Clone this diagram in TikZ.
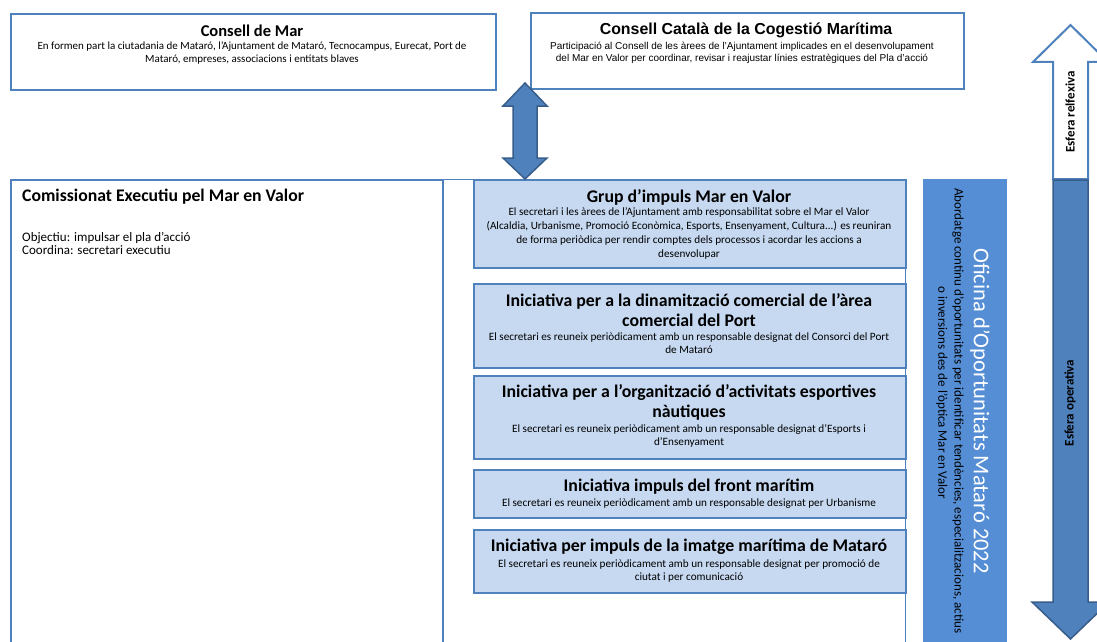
\documentclass[tikz,border=0pt]{standalone}
\usepackage{fontspec}
\setmainfont{Carlito}
\newfontfamily\arialf{Liberation Sans}
\definecolor{bb}{RGB}{79,129,189}
\definecolor{bbdark}{RGB}{56,93,138}
\definecolor{lightfill}{RGB}{198,217,241}
\definecolor{ofifill}{RGB}{85,142,213}
\begin{document}
\begin{tikzpicture}[x=1pt,y=-1pt,
  box/.style={draw=bb, line width=2pt, anchor=north west, inner sep=0pt},
  topbox/.style={box, fill=white},
  initbox/.style={box, fill=lightfill},
  ttl/.style={font=\bfseries\fontsize{17.8}{20}\selectfont, align=center, inner sep=0pt},
  txt/.style={font=\fontsize{11.2}{13.7}\selectfont, align=center, inner sep=0pt},
  blockarrow/.style={fill=bb, draw=bbdark, line width=1.5pt, line join=miter},
  whitearrow/.style={fill=white, draw=bb, line width=2pt, line join=miter},
  arrowlabel/.style={font=\bfseries\fontsize{13}{15}\selectfont, rotate=90, inner sep=0pt},
]
\useasboundingbox (0,0) rectangle (1097,642);
\clip (0,0) rectangle (1097,642);
\fill[white] (0,0) rectangle (1097,642);

% top boxes
\node[topbox, minimum width=485pt, minimum height=76pt] (cmar) at (10,13) {};
\node[ttl, font=\bfseries\fontsize{16.5}{20}\selectfont] (cmarT) at (252,31) {Consell de Mar};
\node[txt, font=\fontsize{11}{12.5}\selectfont] (cmarB) at (252,53) {En formen part la ciutadania de Mataró, l’Ajuntament de Mataró, Tecnocampus, Eurecat, Port de\\Mataró, empreses, associacions i entitats blaves};

\node[topbox, minimum width=433pt, minimum height=76pt] (ccat) at (530,12) {};
\node[ttl, font=\arialf\bfseries\fontsize{15.9}{18}\selectfont] (ccatT) at (746,30) {Consell Català de la Cogestió Marítima};
\node[txt, font=\arialf\fontsize{10}{12.3}\selectfont] (ccatB) at (742,53) {Participació al Consell de les àrees de l’Ajuntament implicades en el desenvolupament\\del Mar en Valor per coordinar, revisar i reajustar línies estratègiques del Pla d’acció};

% container and comissionat
\node[draw=bb, line width=1pt, anchor=north west, minimum width=895pt, minimum height=520pt, inner sep=0pt] (cont) at (10,179) {};
\node[topbox, minimum width=432pt, minimum height=520pt] (com) at (10,179) {};
\node[font=\bfseries\fontsize{17.7}{20}\selectfont, anchor=west, inner sep=0pt] (comT) at (22,197) {Comissionat Executiu pel Mar en Valor};
\node[font=\fontsize{13}{13.5}\selectfont, anchor=west, align=left, inner sep=0pt] (comB) at (22,243.5) {Objectiu: impulsar el pla d’acció\\Coordina: secretari executiu};

% initiative boxes
\node[initbox, minimum width=432pt, minimum height=88pt] (grup) at (473,179) {};
\node[ttl] (grupT) at (689,197) {Grup d’impuls Mar en Valor};
\node[txt] (grupB) at (689,233.5) {El secretari i les àrees de l’Ajuntament amb responsabilitat sobre el Mar el Valor\\(Alcaldia, Urbanisme, Promoció Econòmica, Esports, Ensenyament, Cultura...) es reuniran\\de forma periòdica per rendir comptes dels processos i acordar les accions a\\desenvolupar};

\node[initbox, minimum width=432pt, minimum height=84pt] (ini1) at (473,283) {};
\node[ttl] (ini1T) at (689,310) {Iniciativa per a la dinamització comercial de l’àrea\\comercial del Port};
\node[txt, font=\fontsize{11.2}{12.8}\selectfont] (ini1B) at (689,343) {El secretari es reuneix periòdicament amb un responsable designat del Consorci del Port\\de Mataró};

\node[initbox, minimum width=432pt, minimum height=83pt] (ini2) at (473,375) {};
\node[ttl] (ini2T) at (689,402) {Iniciativa per a l’organització d’activitats esportives\\nàutiques};
\node[txt, font=\fontsize{11.2}{12.8}\selectfont] (ini2B) at (689,436) {El secretari es reuneix periòdicament amb un responsable designat d’Esports i\\d’Ensenyament};

\node[initbox, minimum width=432pt, minimum height=48pt] (ini3) at (473,469) {};
\node[ttl] (ini3T) at (689,487) {Iniciativa impuls del front marítim};
\node[txt] (ini3B) at (689,504) {El secretari es reuneix periòdicament amb un responsable designat per Urbanisme};

\node[initbox, minimum width=432pt, minimum height=63pt] (ini4) at (473,529) {};
\node[ttl] (ini4T) at (689,547) {Iniciativa per impuls de la imatge marítima de Mataró};
\node[txt, font=\fontsize{11.2}{12.8}\selectfont] (ini4B) at (689,571) {El secretari es reuneix periòdicament amb un responsable designat per promoció de\\ciutat i per comunicació};

% double arrow between councils and grup
\coordinate (da) at (525,83);
\draw[blockarrow] (da) -- ++(22,23) -- ++(-10,0) -- ++(0,52) -- ++(10,0) -- (grup.north -| da) -- ++(-22,-21) -- ++(10,0) -- ++(0,-52) -- ++(-10,0) -- cycle;

% oficina
\node[fill=ofifill, anchor=north west, minimum width=84pt, minimum height=480pt, inner sep=0pt] (ofi) at (923,179) {};
\node[rotate=-90, text=white, font=\fontsize{22.5}{24}\selectfont, inner sep=0pt] (ofiT) at (980,411) {Oficina d’Oportunitats Mataró 2022};
\node[rotate=-90, anchor=west, font=\fontsize{13}{15}\selectfont, inner sep=0pt] (ofiB1) at (958,188) {Abordatge continu d’oportunitats per identificar tendències, especialitzacions, actius};
\node[rotate=-90, font=\fontsize{13}{15}\selectfont, inner sep=0pt] (ofiB2) at (942,393) {o inversions des de l’òptica Mar en Valor};

% right arrows
\coordinate (up) at (1070.5,25);
\draw[whitearrow] (up) -- ++(37.5,37) -- ++(-20,0) -- ++(0,117) -- ++(-35,0) -- ++(0,-117) -- ++(-20,0) -- cycle;
\coordinate (dn) at (1070.5,639);
\draw[blockarrow] (dn) -- ++(38.5,-37) -- ++(-21,0) -- ++(0,-422) -- ++(-35,0) -- ++(0,422) -- ++(-21,0) -- cycle;
\node[arrowlabel] (refl) at (1070,112) {Esfera relfexiva};
\node[arrowlabel] (oper) at (1070,403) {Esfera operativa};
\end{tikzpicture}
\end{document}
